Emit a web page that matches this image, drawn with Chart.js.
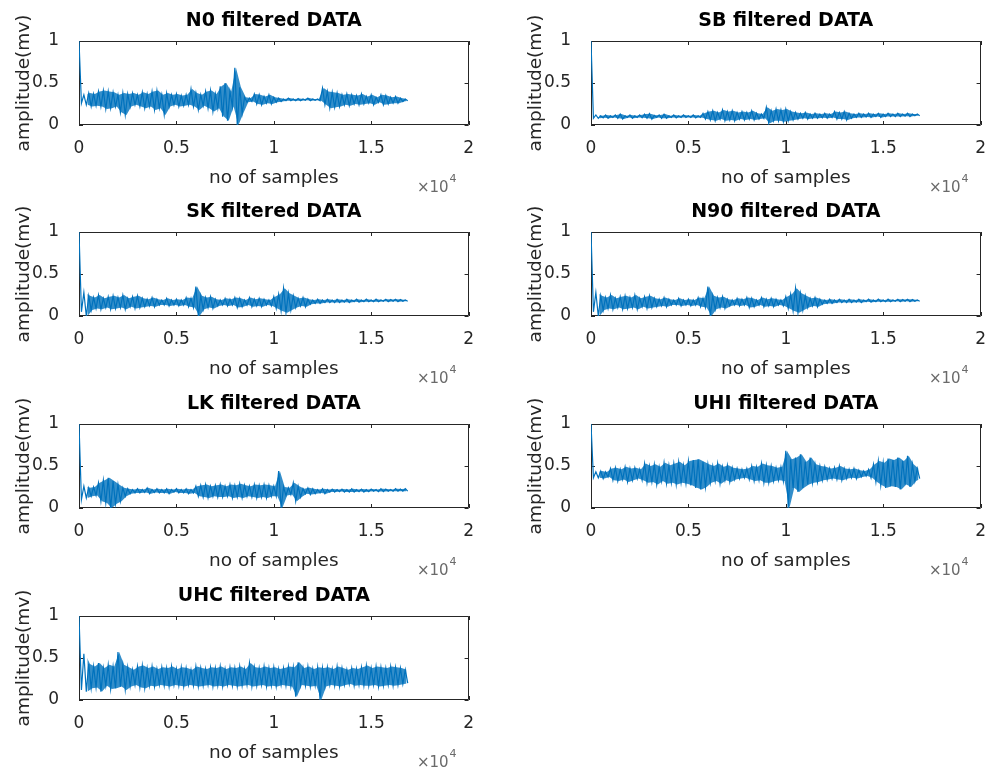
<!DOCTYPE html>
<html>
<head>
<meta charset="utf-8">
<title>filtered DATA</title>
<script src="https://cdn.jsdelivr.net/npm/chart.js@4.4.0/dist/chart.umd.min.js"></script>
<style>
  html, body { margin: 0; padding: 0; background: #fff; overflow: hidden; }
  #figure { position: relative; width: 989px; height: 769px; overflow: hidden; }
  .panel { position: absolute; width: 479px; height: 196px; }
</style>
</head>
<body>
<div id="figure"></div>
<script>
// each signal is stored as an envelope: max and min of every 250-sample bin
const BIN = 250;
const X_TICKS = [0, 5000, 10000, 15000, 20000];
const Y_TICKS = [0, 0.5, 1];

const n0Hi = [1.0,0.36,0.38,0.37,0.40,0.41,0.40,0.39,0.36,0.38, 0.37,0.38,0.36,0.39,0.37,0.40,0.41,0.36,0.38,0.36,
              0.37,0.35,0.36,0.43,0.38,0.36,0.40,0.41,0.37,0.46, 0.50,0.40,0.68,0.45,0.33,0.32,0.37,0.36,0.34,0.36,
              0.33,0.32,0.31,0.32,0.31,0.315,0.31,0.32,0.31,0.31, 0.44,0.40,0.39,0.38,0.36,0.37,0.36,0.35,0.37,0.34,
              0.36,0.33,0.36,0.35,0.33,0.34,0.32,0.31];
const n0Lo = [0.26,0.24,0.22,0.23,0.22,0.19,0.20,0.22,0.15,0.12, 0.22,0.24,0.22,0.20,0.22,0.18,0.20,0.12,0.22,0.24,
              0.22,0.23,0.24,0.22,0.18,0.23,0.20,0.16,0.20,0.10, 0.05,0.22,0.0,0.14,0.27,0.28,0.25,0.24,0.26,0.25,
              0.27,0.28,0.29,0.29,0.29,0.29,0.295,0.29,0.295,0.29, 0.24,0.20,0.21,0.22,0.24,0.23,0.25,0.24,0.25,0.26,
              0.24,0.27,0.24,0.25,0.26,0.26,0.28,0.29];

const sbHi = [1.0,0.12,0.11,0.12,0.11,0.12,0.13,0.11,0.12,0.11, 0.12,0.13,0.135,0.115,0.12,0.13,0.11,0.12,0.11,0.12,
              0.11,0.12,0.11,0.14,0.16,0.17,0.15,0.18,0.16,0.17, 0.15,0.16,0.15,0.17,0.14,0.13,0.21,0.17,0.19,0.18,
              0.19,0.16,0.15,0.14,0.15,0.13,0.14,0.13,0.14,0.13, 0.16,0.15,0.16,0.14,0.13,0.14,0.13,0.14,0.13,0.14,
              0.13,0.14,0.13,0.14,0.13,0.14,0.13,0.13];
const sbLo = [0.08,0.08,0.085,0.08,0.09,0.08,0.07,0.09,0.08,0.09, 0.085,0.08,0.07,0.09,0.08,0.08,0.09,0.085,0.09,0.09,
              0.09,0.085,0.09,0.07,0.06,0.05,0.07,0.05,0.06,0.05, 0.07,0.06,0.07,0.06,0.07,0.08,0.02,0.05,0.05,0.04,
              0.05,0.06,0.07,0.08,0.07,0.08,0.08,0.085,0.08,0.09, 0.07,0.07,0.06,0.08,0.09,0.09,0.095,0.09,0.10,0.09,
              0.10,0.10,0.10,0.10,0.105,0.10,0.11,0.11];

const skHi = [1.0,0.28,0.24,0.22,0.25,0.21,0.23,0.24,0.22,0.25, 0.21,0.23,0.24,0.21,0.20,0.22,0.20,0.19,0.21,0.19,
              0.20,0.19,0.22,0.21,0.35,0.24,0.22,0.23,0.20,0.19, 0.21,0.20,0.22,0.21,0.19,0.22,0.20,0.21,0.20,0.19,
              0.23,0.26,0.33,0.27,0.24,0.21,0.22,0.20,0.19,0.20, 0.19,0.20,0.19,0.20,0.19,0.20,0.19,0.20,0.19,0.20,
              0.19,0.20,0.19,0.20,0.195,0.20,0.195,0.19];
const skLo = [0.05,0.0,0.07,0.09,0.08,0.10,0.08,0.09,0.10,0.08, 0.11,0.09,0.10,0.11,0.12,0.11,0.13,0.13,0.12,0.13,
              0.12,0.13,0.11,0.10,0.0,0.08,0.10,0.09,0.12,0.13, 0.12,0.13,0.10,0.11,0.13,0.11,0.12,0.11,0.13,0.12,
              0.09,0.06,0.04,0.07,0.10,0.12,0.11,0.14,0.15,0.15, 0.16,0.16,0.16,0.16,0.165,0.16,0.17,0.165,0.17,0.17,
              0.17,0.17,0.175,0.17,0.175,0.17,0.175,0.175];

const n90Hi = [1.0,0.28,0.24,0.22,0.25,0.21,0.23,0.24,0.22,0.25, 0.21,0.23,0.24,0.21,0.20,0.22,0.20,0.19,0.21,0.19,
               0.20,0.19,0.22,0.21,0.35,0.24,0.22,0.23,0.20,0.19, 0.21,0.20,0.22,0.21,0.19,0.22,0.20,0.21,0.20,0.19,
               0.23,0.26,0.33,0.27,0.24,0.21,0.22,0.20,0.19,0.20, 0.19,0.20,0.19,0.20,0.19,0.20,0.19,0.20,0.19,0.20,
               0.19,0.20,0.19,0.20,0.195,0.20,0.195,0.19];
const n90Lo = [0.05,0.0,0.07,0.09,0.08,0.10,0.08,0.09,0.10,0.08, 0.11,0.09,0.10,0.11,0.12,0.11,0.13,0.13,0.12,0.13,
               0.12,0.13,0.11,0.10,0.0,0.08,0.10,0.09,0.12,0.13, 0.12,0.13,0.10,0.11,0.13,0.11,0.12,0.11,0.13,0.12,
               0.09,0.06,0.04,0.07,0.10,0.12,0.11,0.14,0.15,0.15, 0.16,0.16,0.16,0.16,0.165,0.16,0.17,0.165,0.17,0.17,
               0.17,0.17,0.175,0.17,0.175,0.17,0.175,0.175];

const lkHi = [1.0,0.26,0.24,0.25,0.30,0.33,0.36,0.32,0.28,0.24, 0.23,0.22,0.23,0.22,0.24,0.22,0.23,0.22,0.23,0.22,
              0.23,0.22,0.23,0.22,0.26,0.27,0.28,0.26,0.27,0.28, 0.26,0.28,0.27,0.29,0.27,0.26,0.28,0.27,0.28,0.27,
              0.26,0.44,0.25,0.24,0.30,0.26,0.23,0.24,0.23,0.22, 0.23,0.22,0.225,0.22,0.225,0.22,0.23,0.22,0.225,0.22,
              0.225,0.22,0.23,0.225,0.22,0.23,0.225,0.23];
const lkLo = [0.10,0.12,0.14,0.15,0.08,0.06,0.0,0.05,0.08,0.14, 0.17,0.18,0.18,0.185,0.17,0.185,0.18,0.18,0.17,0.19,
              0.18,0.18,0.17,0.18,0.14,0.13,0.12,0.14,0.13,0.13, 0.14,0.12,0.13,0.12,0.14,0.13,0.12,0.13,0.12,0.14,
              0.14,0.0,0.15,0.16,0.08,0.13,0.17,0.16,0.17,0.18, 0.17,0.19,0.19,0.195,0.19,0.19,0.19,0.195,0.19,0.195,
              0.2,0.195,0.195,0.2,0.2,0.2,0.2,0.2];

const uhiHi = [1.0,0.43,0.44,0.43,0.47,0.48,0.46,0.49,0.47,0.48, 0.46,0.53,0.50,0.52,0.49,0.54,0.51,0.53,0.55,0.51,
               0.56,0.57,0.58,0.55,0.52,0.50,0.53,0.49,0.51,0.48, 0.47,0.46,0.47,0.50,0.49,0.53,0.51,0.50,0.48,0.49,
               0.68,0.58,0.60,0.64,0.55,0.60,0.52,0.50,0.49,0.47, 0.48,0.50,0.47,0.46,0.47,0.45,0.44,0.46,0.52,0.56,
               0.54,0.59,0.57,0.60,0.56,0.62,0.52,0.47];
const uhiLo = [0.36,0.36,0.35,0.37,0.33,0.32,0.34,0.31,0.33,0.35, 0.33,0.30,0.31,0.28,0.32,0.29,0.30,0.28,0.30,0.29,
               0.27,0.24,0.22,0.25,0.30,0.32,0.29,0.33,0.31,0.34, 0.35,0.36,0.34,0.32,0.33,0.30,0.30,0.32,0.33,0.32,
               0.0,0.24,0.19,0.24,0.28,0.30,0.31,0.33,0.34,0.35, 0.34,0.33,0.35,0.36,0.35,0.37,0.38,0.36,0.31,0.27,
               0.24,0.26,0.25,0.22,0.28,0.25,0.32,0.35];

const uhcHi = [1.0,0.55,0.43,0.40,0.44,0.38,0.42,0.40,0.57,0.42, 0.39,0.36,0.40,0.41,0.38,0.40,0.37,0.39,0.38,0.40,
               0.37,0.39,0.38,0.36,0.40,0.38,0.37,0.39,0.38,0.40, 0.37,0.39,0.38,0.40,0.37,0.44,0.39,0.38,0.40,0.38,
               0.39,0.37,0.38,0.40,0.39,0.45,0.38,0.40,0.37,0.39, 0.38,0.39,0.37,0.40,0.38,0.36,0.38,0.37,0.39,0.41,
               0.38,0.40,0.39,0.38,0.40,0.39,0.38,0.36];
const uhcLo = [0.12,0.10,0.14,0.15,0.10,0.17,0.13,0.14,0.16,0.12, 0.16,0.18,0.15,0.14,0.17,0.16,0.18,0.17,0.16,0.18,
               0.17,0.16,0.18,0.17,0.16,0.17,0.18,0.16,0.17,0.16, 0.18,0.17,0.16,0.17,0.18,0.16,0.17,0.18,0.16,0.17,
               0.16,0.18,0.17,0.16,0.04,0.18,0.17,0.16,0.17,0.0, 0.16,0.18,0.17,0.16,0.18,0.19,0.17,0.18,0.17,0.17,
               0.18,0.16,0.17,0.18,0.17,0.18,0.19,0.20];

const panels = [
    { title: 'N0 filtered DATA',  hi: n0Hi,  lo: n0Lo },
    { title: 'SB filtered DATA',  hi: sbHi,  lo: sbLo },
    { title: 'SK filtered DATA',  hi: skHi,  lo: skLo },
    { title: 'N90 filtered DATA', hi: n90Hi, lo: n90Lo },
    { title: 'LK filtered DATA',  hi: lkHi,  lo: lkLo },
    { title: 'UHI filtered DATA', hi: uhiHi, lo: uhiLo },
    { title: 'UHC filtered DATA', hi: uhcHi, lo: uhcLo }
];

const ROW_TOPS = [0, 191, 383, 575];
const COL_LEFTS = [0, 512];
const AXIS_COLOR = '#262626';
const LINE_COLOR = '#0072BD';

Chart.defaults.font.family = '"DejaVu Sans", sans-serif';

// box, inward ticks, title and the x10^4 exponent, matlab style
const matlabAxes = {
    id: 'matlabAxes',
    beforeDatasetsDraw(chart) {
        const { ctx, chartArea: a, scales: { x, y } } = chart;
        ctx.save();
        ctx.strokeStyle = AXIS_COLOR;
        ctx.lineWidth = 1;
        ctx.beginPath();
        X_TICKS.forEach(v => {
            const px = Math.round(x.getPixelForValue(v)) + 0.5;
            ctx.moveTo(px, a.top); ctx.lineTo(px, a.top + 4);
            ctx.moveTo(px, a.bottom); ctx.lineTo(px, a.bottom - 4);
        });
        Y_TICKS.forEach(v => {
            const py = Math.round(y.getPixelForValue(v)) + 0.5;
            ctx.moveTo(a.left, py); ctx.lineTo(a.left + 4, py);
            ctx.moveTo(a.right, py); ctx.lineTo(a.right - 4, py);
        });
        ctx.rect(Math.round(a.left) + 0.5, Math.round(a.top) + 0.5,
                 Math.round(a.width) - 1, Math.round(a.height) - 1);
        ctx.stroke();

        ctx.fillStyle = '#000';
        ctx.textAlign = 'center';
        ctx.textBaseline = 'middle';
        ctx.font = 'bold 19px "DejaVu Sans"';
        ctx.fillText(chart.options.plugins.matlabAxes.title, (a.left + a.right) / 2, a.top - 20);

        ctx.fillStyle = '#6a6a6a';
        ctx.textBaseline = 'alphabetic';
        ctx.textAlign = 'right';
        ctx.font = '15px "DejaVu Sans"';
        ctx.fillText('\u00d710', a.right - 20, a.bottom + 67);
        ctx.textAlign = 'left';
        ctx.font = '11px "DejaVu Sans"';
        ctx.fillText('4', a.right - 19, a.bottom + 57);
        ctx.restore();
    }
};

// zigzag through max and min of each bin
function zigzagPoints(hi, lo) {
    const pts = [];
    for (let i = 0; i < hi.length; i++) {
        pts.push({ x: i * BIN, y: hi[i] });
        pts.push({ x: i * BIN + BIN / 2, y: lo[i] });
    }
    return pts;
}

// upper / lower edge of the dense band (the start spike is left to the zigzag)
function edgePoints(vals, shift) {
    const pts = [];
    for (let i = 1; i < vals.length; i++) {
        pts.push({ x: i * BIN + shift, y: vals[i] });
    }
    return pts;
}

const figure = document.getElementById('figure');

panels.forEach((p, i) => {
    const canvas = document.createElement('canvas');
    canvas.className = 'panel';
    canvas.style.left = COL_LEFTS[i % 2] + 'px';
    canvas.style.top = ROW_TOPS[Math.floor(i / 2)] + 'px';
    canvas.width = 479;
    canvas.height = 196;
    figure.appendChild(canvas);

    new Chart(canvas, {
        type: 'line',
        data: {
            datasets: [
                {
                    data: edgePoints(p.hi, BIN / 4),
                    borderWidth: 0,
                    pointRadius: 0,
                    backgroundColor: 'rgba(0, 114, 189, 0.8)',
                    fill: '+1'
                },
                {
                    data: edgePoints(p.lo, BIN * 3 / 4),
                    borderWidth: 0,
                    pointRadius: 0,
                    fill: false
                },
                {
                    data: zigzagPoints(p.hi, p.lo),
                    borderColor: LINE_COLOR,
                    borderWidth: 1.2,
                    pointRadius: 0,
                    fill: false
                }
            ]
        },
        options: {
            responsive: false,
            animation: false,
            events: [],
            layout: { padding: { left: 0, right: 7, top: 41, bottom: 4 } },
            elements: { line: { tension: 0 } },
            plugins: {
                legend: { display: false },
                tooltip: { enabled: false },
                matlabAxes: { title: p.title }
            },
            scales: {
                x: {
                    type: 'linear',
                    min: 0,
                    max: 20000,
                    afterFit(scale) { scale.height = 67; },
                    grid: { display: false },
                    border: { display: false },
                    ticks: {
                        stepSize: 5000,
                        autoSkip: false,
                        maxRotation: 0,
                        padding: 5,
                        color: AXIS_COLOR,
                        font: { size: 17 },
                        callback: v => String(v / 10000)
                    },
                    title: {
                        display: true,
                        text: 'no of samples',
                        color: AXIS_COLOR,
                        font: { size: 18.5 },
                        padding: { top: 0, bottom: 3 }
                    }
                },
                y: {
                    min: 0,
                    max: 1,
                    afterFit(scale) { scale.width = 79; },
                    grid: { display: false },
                    border: { display: false },
                    ticks: {
                        stepSize: 0.5,
                        padding: 12,
                        color: AXIS_COLOR,
                        font: { size: 17 },
                        callback: v => String(v)
                    },
                    title: {
                        display: true,
                        text: 'amplitude(mv)',
                        color: AXIS_COLOR,
                        font: { size: 18.5 },
                        padding: { top: 13, bottom: 0 }
                    }
                }
            }
        },
        plugins: [matlabAxes]
    });
});
</script>
</body>
</html>
